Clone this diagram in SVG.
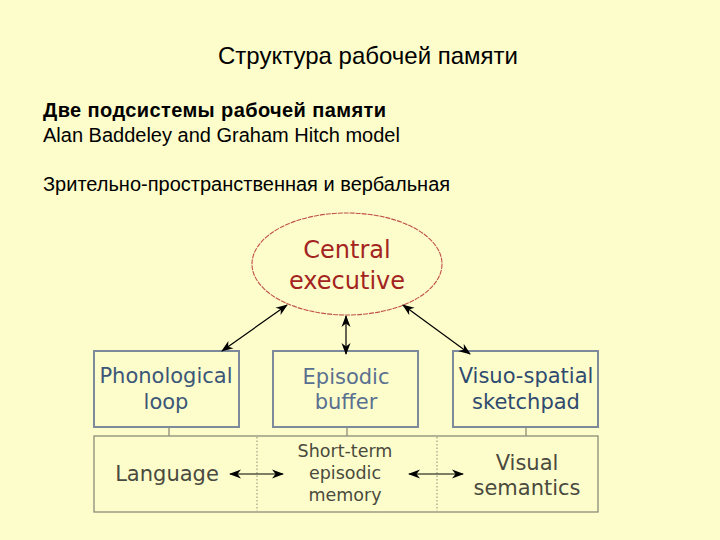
<svg xmlns="http://www.w3.org/2000/svg" width="720" height="540" viewBox="0 0 720 540">
<style>
.t{font-family:"Liberation Sans",Arial,sans-serif;fill:#000}
.d{font-family:"DejaVu Sans",sans-serif;text-anchor:middle}
.box{fill:none;stroke:#7d8a9c;stroke-width:2}
.low{fill:none;stroke:#8c8c78;stroke-width:1.3}
.blue{fill:#3b5678;font-size:21px}
.gray{fill:#4a4a3e}
.con{stroke:#000;stroke-width:1.2;fill:none;marker-start:url(#a);marker-end:url(#a)}
</style>
<defs>
<marker id="a" viewBox="0 0 12 10" refX="11" refY="5" markerWidth="12" markerHeight="10" markerUnits="userSpaceOnUse" orient="auto-start-reverse">
<path d="M0,0.5 L12,5 L0,9.5 L3.5,5 Z" fill="#000"/>
</marker>
</defs>
<rect width="720" height="540" fill="#fdfdcb"/>
<text class="t" x="368" y="64" font-size="24" text-anchor="middle">Структура рабочей памяти</text>
<text class="t" x="43" y="117" font-size="20" font-weight="bold" letter-spacing="0.4">Две подсистемы рабочей памяти</text>
<text class="t" x="43" y="142" font-size="20">Alan Baddeley and Graham Hitch model</text>
<text class="t" x="43" y="191" font-size="20">Зрительно-пространственная и вербальная</text>
<g id="central">
<ellipse cx="347" cy="264" rx="95" ry="51" fill="none" stroke="#c0504a" stroke-width="1.1" stroke-dasharray="5 1"/>
<text class="d" x="347" y="258" font-size="24" fill="#a3241f">Central</text>
<text class="d" x="347" y="289" font-size="24" fill="#a3241f">executive</text>
</g>
<g id="phonological">
<rect class="box" x="94" y="351" width="145" height="76"/>
<text class="d blue" x="166" y="383">Phonological</text>
<text class="d blue" x="166" y="409">loop</text>
</g>
<g id="episodic">
<rect class="box" x="273" y="351" width="145" height="76"/>
<text class="d blue" x="346" y="384" style="fill:#5a7090">Episodic</text>
<text class="d blue" x="346" y="409" style="fill:#5a7090">buffer</text>
</g>
<g id="visuo">
<rect class="box" x="453" y="351" width="145" height="76"/>
<text class="d blue" x="526" y="383" style="fill:#2f4a70">Visuo-spatial</text>
<text class="d blue" x="526" y="409" style="fill:#2f4a70">sketchpad</text>
</g>
<g id="lower">
<rect class="low" x="94" y="436" width="504" height="76"/>
<line x1="257" y1="437" x2="257" y2="511" stroke="#8c8c78" stroke-width="1" stroke-dasharray="1.5 2"/>
<line x1="437" y1="437" x2="437" y2="511" stroke="#8c8c78" stroke-width="1" stroke-dasharray="1.5 2"/>
<line x1="169" y1="427" x2="169" y2="436" stroke="#8c8c78" stroke-width="1.3"/>
<line x1="347" y1="427" x2="347" y2="436" stroke="#8c8c78" stroke-width="1.3"/>
<line x1="526" y1="427" x2="526" y2="436" stroke="#8c8c78" stroke-width="1.3"/>
</g>
<g id="language"><text class="d gray" x="167" y="481" font-size="21">Language</text></g>
<g id="shortterm">
<text class="d gray" x="345" y="457" font-size="17.5">Short-term</text>
<text class="d gray" x="345" y="479" font-size="17.5">episodic</text>
<text class="d gray" x="345" y="501" font-size="17.5">memory</text>
</g>
<g id="visual">
<text class="d gray" x="527" y="470" font-size="21">Visual</text>
<text class="d gray" x="527" y="495" font-size="21">semantics</text>
</g>
<g id="connectors">
<line class="con" x1="287" y1="305" x2="222" y2="351"/>
<line class="con" x1="346" y1="316" x2="346" y2="354"/>
<line class="con" x1="403" y1="305" x2="470" y2="354"/>
<line class="con" x1="230" y1="474" x2="283" y2="474"/>
<line class="con" x1="409" y1="474" x2="463" y2="474"/>
</g>
</svg>
